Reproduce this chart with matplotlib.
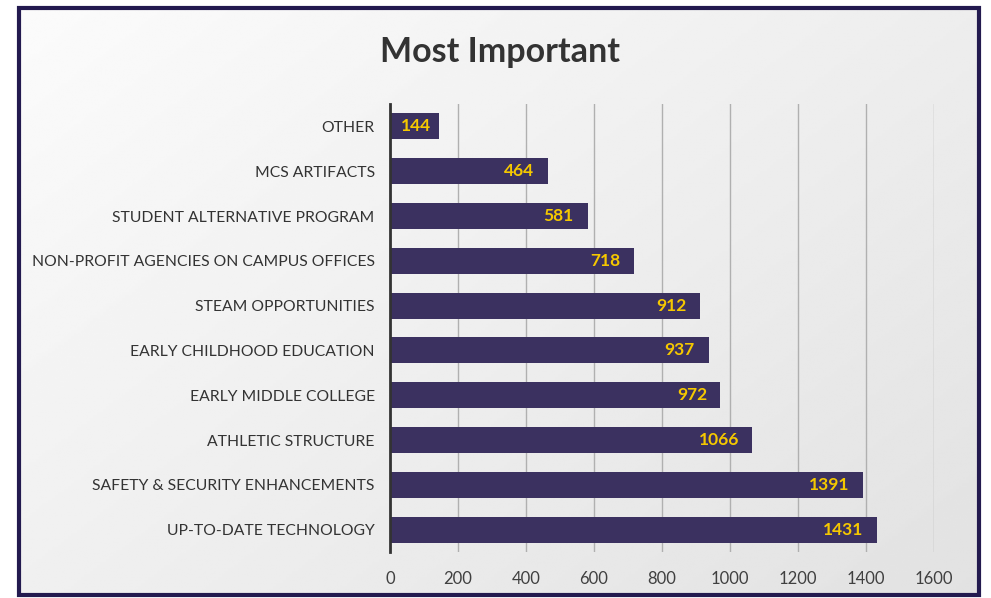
import numpy as np
import matplotlib.pyplot as plt
from matplotlib.patches import Rectangle

categories = ["UP-TO-DATE TECHNOLOGY", "SAFETY & SECURITY ENHANCEMENTS", "ATHLETIC STRUCTURE",
              "EARLY MIDDLE COLLEGE", "EARLY CHILDHOOD EDUCATION", "STEAM OPPORTUNITIES",
              "NON-PROFIT AGENCIES ON CAMPUS OFFICES", "STUDENT ALTERNATIVE PROGRAM",
              "MCS ARTIFACTS", "OTHER"]
values = [1431, 1391, 1066, 972, 937, 912, 718, 581, 464, 144]
xticks = [0, 200, 400, 600, 800, 1000, 1200, 1400, 1600]

plt.rcParams['font.family'] = ['Lato', 'DejaVu Sans']

fig = plt.figure(figsize=(9.91, 5.98), dpi=100)
W, H = 991, 598

# background gradient inside the frame
bg = fig.add_axes([0, 0, 1, 1], zorder=-10)
yy, xx = np.mgrid[0:1:200j, 0:1:300j]
g = 0.985 - 0.10 * (0.55 * xx + 0.45 * yy)
bg.imshow(g, cmap='gray', vmin=0, vmax=1, extent=[18 / W, 980 / W, 1 - 596 / H, 1 - 8 / H],
          aspect='auto', interpolation='bilinear')
bg.set_xlim(0, 1)
bg.set_ylim(0, 1)
bg.add_patch(Rectangle((19 / W, 1 - 595 / H), 960 / W, 587 / H, fill=False,
                       edgecolor='#231a4f', linewidth=3))
bg.axis('off')

ax = fig.add_axes([390 / W, 1 - 552 / H, 544 / W, 448 / H])
ax.set_facecolor('none')
y = np.arange(len(categories))
ax.barh(y, values, height=0.58, color='#3b3160', zorder=3)
ax.set_xlim(0, 1600)
ax.set_ylim(-0.5, len(categories) - 0.5)
ax.set_xticks(xticks)
ax.set_xticklabels([str(t) for t in xticks], fontsize=12, color='#404040')
ax.set_yticks(y)
ax.set_yticklabels(categories, fontsize=11.3, color='#333333')
ax.tick_params(axis='both', length=0)
ax.tick_params(axis='x', pad=14)
ax.tick_params(axis='y', pad=11)
ax.grid(axis='x', color='#b0b0b0', linewidth=1, zorder=0)
for s in ['top', 'right', 'bottom']:
    ax.spines[s].set_visible(False)
ax.spines['left'].set_color('#333333')
ax.spines['left'].set_linewidth(2)
ax.spines['left'].set_zorder(4)

for yi, v in zip(y, values):
    if v < 300:
        # short bar: label sits in the middle
        ax.text(v / 2 + 5, yi, str(v), ha='center', va='center', fontsize=12.5,
                fontweight='bold', color='#f5c800', zorder=5)
    else:
        ax.text(v - 40, yi, str(v), ha='right', va='center', fontsize=12.5,
                fontweight='bold', color='#f5c800', zorder=5)

fig.text(500 / W, 1 - 52 / H, "Most Important", ha='center', va='center',
         fontsize=24.5, fontweight='bold', color='#333333')

fig.savefig('out.png', dpi=100)
